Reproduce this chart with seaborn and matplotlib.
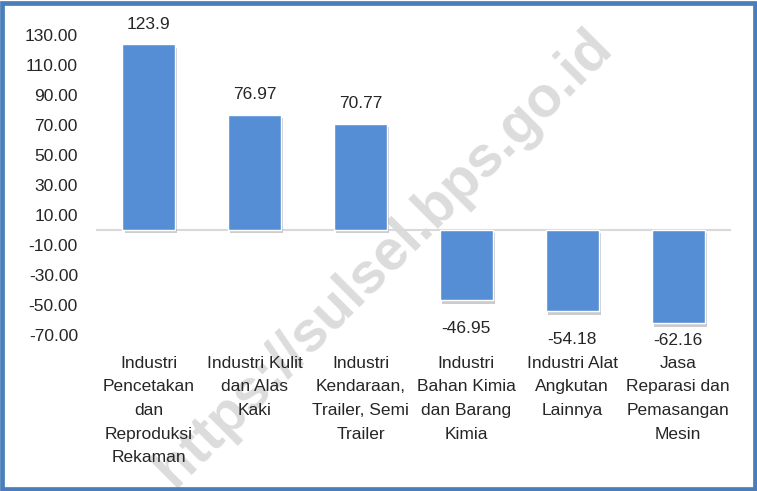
import matplotlib
matplotlib.use("Agg")
import matplotlib.pyplot as plt
import matplotlib.patheffects as pe
from matplotlib.patches import Rectangle
import pandas as pd
import seaborn as sns

categories = [
    "Industri\nPencetakan\ndan\nReproduksi\nRekaman",
    "Industri Kulit\ndan Alas\nKaki",
    "Industri\nKendaraan,\nTrailer, Semi\nTrailer",
    "Industri\nBahan Kimia\ndan Barang\nKimia",
    "Industri Alat\nAngkutan\nLainnya",
    "Jasa\nReparasi dan\nPemasangan\nMesin",
]
values = [123.9, 76.97, 70.77, -46.95, -54.18, -62.16]
value_labels = ["123.9", "76.97", "70.77", "-46.95", "-54.18", "-62.16"]
yticks = [-70, -50, -30, -10, 10, 30, 50, 70, 90, 110, 130]

sns.set_theme(style="white")
plt.rcParams['font.family'] = ['Liberation Sans', 'DejaVu Sans']

df = pd.DataFrame({"kategori": categories, "nilai": values})

fig = plt.figure(figsize=(7.57, 4.91), dpi=100)
ax = fig.add_axes([96 / 757, 1 - 335 / 491, 635 / 757, 300 / 491])
ax.patch.set_alpha(0)

sns.barplot(data=df, x="kategori", y="nilai", color="#558ED5", width=0.5,
            saturation=1, ax=ax)
for bar in ax.patches:
    bar.set_path_effects([pe.SimplePatchShadow(offset=(1.5, -2.5), shadow_rgbFace="#808080", alpha=0.4),
                          pe.Normal()])

ax.axhline(0, color="#D9D9D9", lw=1.5, zorder=0.5)
ax.set_ylim(-70, 130)
ax.set_yticks(yticks)
ax.set_yticklabels([f"{t:.2f}" for t in yticks], fontsize=12.5)
ax.tick_params(axis="y", length=0, pad=13)
ax.tick_params(axis="x", length=0, pad=15, labelsize=12.5)
for lbl in ax.get_xticklabels():
    lbl.set_linespacing(1.72)
ax.set_xlabel("")
ax.set_ylabel("")
for s in ax.spines.values():
    s.set_visible(False)

for i, (v, t) in enumerate(zip(values, value_labels)):
    if v > 0:
        ax.annotate(t, (i, v), xytext=(0, 9), textcoords="offset points",
                    ha="center", va="bottom", fontsize=12.5)
    else:
        # keep negative labels clear of the category text
        y = max(v - 18.5, -73.5)
        ax.text(i, y, t, ha="center", va="center", fontsize=12.5)

# watermark, behind the chart
fig.text(0.507, 0.475, "https://sulsel.bps.go.id", rotation=45, fontsize=41,
         fontweight="bold", color="#DCDCDC", ha="center", va="center",
         family=["Liberation Sans", "DejaVu Sans"], zorder=-1)

fig.patches.append(Rectangle((0.003, 0.004), 0.994, 0.99, transform=fig.transFigure,
                             fill=False, edgecolor="#4A7EBB", linewidth=3.4))

fig.savefig("out.png", dpi=100)
